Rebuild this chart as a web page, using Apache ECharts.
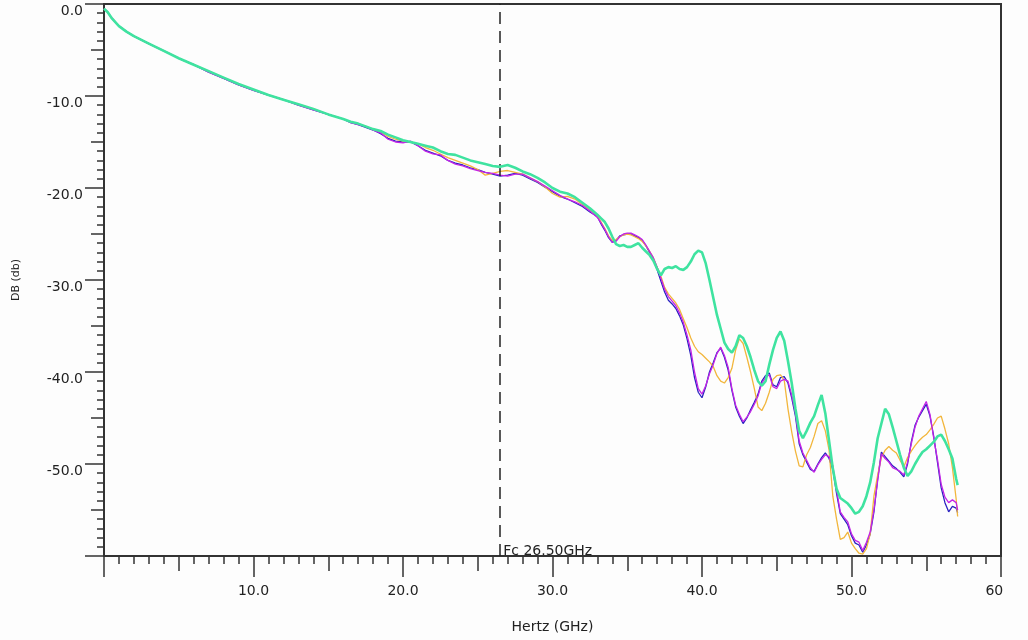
<!DOCTYPE html>
<html><head><meta charset="utf-8">
<script src="https://cdn.jsdelivr.net/npm/echarts@6/dist/echarts.min.js"></script>
<style>html,body{margin:0;padding:0;background:#fdfdfd;overflow:hidden;} #c{width:1003px;height:640px;}</style>
</head><body><div id="c"></div>
<script>
// Frequency grid (GHz)
const freqs = [
  0,0.25,0.5,1,1.5,2,3,4,5,6,7,8,9,10,11,12,13,14,15,
  16,16.5,17,17.5,18,18.5,19,19.5,20,20.5,21,21.5,22,22.5,23,23.5,24,24.5,25,25.5,26,26.5,27,27.5,28,28.5,29,29.5,30,30.5,31,31.5,32,32.5,
  33,33.25,33.5,33.75, 34,34.25,34.5,34.75, 35,35.25,35.5,35.75, 36,36.25,36.5,36.75,
  37,37.25,37.5,37.75, 38,38.25,38.5,38.75, 39,39.25,39.5,39.75, 40,40.25,40.5,40.75,
  41,41.25,41.5,41.75, 42,42.25,42.5,42.75, 43,43.25,43.5,43.75, 44,44.25,44.5,44.75,
  45,45.25,45.5,45.75, 46,46.25,46.5,46.75, 47,47.25,47.5,47.75, 48,48.25,48.5,48.75,
  49,49.25,49.5,49.75, 50,50.25,50.5,50.75, 51,51.25,51.5,51.75, 52,52.25,52.5,52.75,
  53,53.25,53.5,53.75, 54,54.25,54.5,54.75, 55,55.25,55.5,55.75, 56,56.25,56.5,56.75,
  57,57.1
];

const greenDb = [
  -0.5,-0.9,-1.5,-2.4,-3.0,-3.5,-4.3,-5.1,-5.9,-6.6,-7.3,-8.0,-8.7,-9.3,-9.9,-10.4,-10.9,-11.4,-12.0,
  -12.5,-12.8,-13.0,-13.3,-13.6,-13.8,-14.2,-14.5,-14.8,-15.0,-15.2,-15.4,-15.6,-16.0,-16.3,-16.4,-16.7,-17.0,-17.2,-17.4,-17.6,-17.7,-17.5,-17.8,-18.2,-18.5,-18.9,-19.4,-20.0,-20.4,-20.6,-21.0,-21.6,-22.2,
  -22.9,-23.3,-23.7,-24.4, -25.3,-26.1,-26.3,-26.2, -26.4,-26.4,-26.2,-26.0, -26.5,-26.9,-27.3,-27.9,
  -28.8,-29.5,-28.8,-28.6, -28.7,-28.5,-28.8,-28.9, -28.6,-28.0,-27.2,-26.8, -27.0,-28.2,-30.0,-31.9,
  -33.8,-35.3,-36.8,-37.5, -37.9,-37.2,-36.0,-36.3, -37.2,-38.4,-39.8,-41.0, -41.5,-41.0,-39.2,-37.6,
  -36.3,-35.6,-36.6,-38.8, -41.2,-44.0,-46.4,-47.2, -46.4,-45.5,-44.8,-43.6, -42.5,-44.5,-47.5,-50.5,
  -52.7,-53.7,-54.0,-54.3, -54.8,-55.4,-55.2,-54.6, -53.5,-52.0,-49.8,-47.2, -45.6,-44.0,-44.6,-46.0,
  -47.5,-49.0,-50.4,-51.3, -50.8,-50.0,-49.3,-48.7, -48.4,-48.0,-47.6,-47.0, -46.8,-47.5,-48.4,-49.4,
  -51.6,-52.3
];

const magentaDb = [
  -0.5,-0.9,-1.5,-2.4,-3.0,-3.5,-4.3,-5.1,-5.9,-6.6,-7.4,-8.1,-8.8,-9.4,-9.9,-10.4,-11.0,-11.5,-12.0,
  -12.5,-12.9,-13.1,-13.3,-13.7,-14.0,-14.7,-15.0,-15.1,-14.9,-15.4,-16.0,-16.3,-16.4,-17.0,-17.4,-17.6,-17.9,-18.1,-18.3,-18.4,-18.6,-18.7,-18.5,-18.5,-18.9,-19.3,-19.8,-20.3,-20.8,-21.2,-21.5,-21.9,-22.5,
  -23.2,-23.8,-24.5,-25.3, -25.9,-25.8,-25.3,-25.0, -24.9,-24.9,-25.1,-25.3, -25.6,-26.2,-26.9,-27.6,
  -28.6,-29.8,-31.0,-31.8, -32.3,-32.8,-33.6,-34.6, -36.0,-37.6,-40.0,-41.8, -42.4,-41.5,-40.2,-39.2,
  -38.0,-37.3,-38.2,-39.5, -41.8,-43.6,-44.6,-45.4, -44.9,-44.3,-43.5,-42.6, -41.2,-40.6,-40.3,-41.6,
  -41.8,-41.0,-40.8,-41.0, -42.5,-44.5,-47.5,-48.8, -49.6,-50.4,-50.9,-50.1, -49.5,-49.0,-49.2,-50.2,
  -52.8,-55.2,-55.8,-56.3, -57.6,-58.3,-58.5,-59.4, -58.5,-57.4,-55.0,-51.8, -48.9,-49.4,-49.8,-50.4,
  -50.6,-50.8,-51.2,-49.8, -47.8,-46.0,-44.8,-44.0, -43.2,-44.6,-47.2,-49.5, -52.2,-53.6,-54.2,-53.9,
  -54.2,-55.0
];

const blueDb = [
  -0.5,-0.9,-1.5,-2.4,-3.0,-3.5,-4.3,-5.1,-5.9,-6.6,-7.4,-8.1,-8.8,-9.4,-9.9,-10.4,-11.0,-11.5,-12.0,
  -12.5,-12.9,-13.1,-13.4,-13.7,-14.1,-14.6,-14.9,-15.0,-15.0,-15.4,-15.9,-16.2,-16.5,-17.0,-17.3,-17.5,-17.8,-18.0,-18.3,-18.5,-18.7,-18.6,-18.4,-18.6,-19.0,-19.4,-19.9,-20.4,-20.9,-21.2,-21.6,-22.0,-22.6,
  -23.1,-23.9,-24.6,-25.4, -25.9,-25.7,-25.2,-25.1, -25.0,-25.0,-25.2,-25.4, -25.7,-26.3,-27.0,-27.8,
  -28.9,-30.1,-31.3,-32.2, -32.6,-33.1,-33.9,-34.9, -36.4,-38.2,-40.6,-42.2, -42.8,-41.6,-40.0,-39.0,
  -37.9,-37.4,-38.4,-39.8, -42.0,-43.8,-44.8,-45.6, -45.0,-44.1,-43.3,-42.4, -41.0,-40.4,-40.1,-41.4,
  -41.6,-40.6,-40.5,-41.2, -42.8,-44.8,-47.8,-49.0, -49.8,-50.6,-50.8,-50.0, -49.3,-48.8,-49.4,-50.6,
  -53.2,-55.4,-56.0,-56.6, -57.8,-58.6,-58.8,-59.6, -58.8,-57.6,-55.2,-51.6, -48.7,-49.2,-49.7,-50.2,
  -50.5,-50.9,-51.4,-50.0, -47.6,-45.8,-44.9,-44.2, -43.5,-44.8,-47.0,-49.8, -52.6,-54.2,-55.2,-54.6,
  -54.8,-55.3
];

const orangeDb = [
  -0.5,-0.9,-1.5,-2.4,-3.0,-3.5,-4.3,-5.1,-5.9,-6.6,-7.3,-8.0,-8.7,-9.3,-9.9,-10.4,-10.9,-11.4,-12.0,
  -12.5,-12.8,-13.0,-13.3,-13.6,-13.9,-14.4,-14.7,-14.9,-15.0,-15.2,-15.6,-15.9,-16.3,-16.7,-17.0,-17.3,-17.6,-18.0,-18.6,-18.4,-18.2,-18.1,-18.3,-18.5,-18.9,-19.3,-19.9,-20.6,-21.0,-20.9,-21.2,-21.8,-22.4,
  -23.0,-23.7,-24.4,-25.2, -25.7,-25.6,-25.3,-25.1, -25.0,-25.1,-25.3,-25.5, -25.8,-26.3,-26.9,-27.6,
  -28.6,-29.6,-30.8,-31.5, -32.0,-32.5,-33.2,-34.2, -35.2,-36.3,-37.2,-37.8, -38.1,-38.5,-38.9,-39.4,
  -40.4,-41.0,-41.2,-40.6, -39.6,-37.6,-36.4,-36.9, -38.4,-40.0,-41.8,-43.8, -44.2,-43.4,-42.2,-40.8,
  -40.4,-40.3,-40.9,-44.0, -46.5,-48.6,-50.2,-50.3, -49.0,-48.2,-47.0,-45.6, -45.3,-46.4,-48.5,-53.5,
  -56.0,-58.2,-58.0,-57.4, -58.6,-59.2,-59.7,-59.8, -59.2,-57.6,-53.5,-51.2, -49.3,-48.5,-48.1,-48.5,
  -48.8,-49.6,-50.3,-49.3, -48.6,-48.0,-47.5,-47.1, -46.8,-46.3,-45.7,-45.0, -44.8,-46.2,-47.8,-50.4,
  -53.8,-55.7
];

const yTickValues = [0, -10, -20, -30, -40, -50];
const xTickValues = [10, 20, 30, 40, 50, 60];
const cutoffGHz = 26.5;
const cutoffLabel = 'Fc 26.50GHz';

const FONT = 'DejaVu Sans';
const AX = '#333';
const pairs = arr => freqs.map((f, i) => [f, arr[i]]);

const chart = echarts.init(document.getElementById('c'), null, {renderer: 'canvas'});
const lineSeries = (name, arr, color, width, z) => ({
  name, type: 'line', data: pairs(arr), xAxisIndex: 0, yAxisIndex: 0,
  showSymbol: false, symbol: 'none', z,
  lineStyle: {color, width}, clip: true
});

chart.setOption({
  animation: false,
  backgroundColor: '#fdfdfd',
  grid: {left: 104, top: 4, right: 2, bottom: 84, containLabel: false, outerBoundsMode: 'none',
    show: true, borderColor: AX, borderWidth: 2, backgroundColor: 'transparent'},
  xAxis: [{
    type: 'value', min: 0, max: 60, interval: 10, position: 'bottom',
    name: 'Hertz (GHz)', nameLocation: 'middle', nameGap: 64,
    nameTextStyle: {fontFamily: FONT, fontSize: 14, color: '#222'},
    axisLine: {show: true, onZero: false, lineStyle: {color: AX, width: 2}},
    axisTick: {show: true, length: 21, lineStyle: {color: AX, width: 1.5}},
    minorTick: {show: true, splitNumber: 10, length: 8, lineStyle: {color: AX, width: 1.5}},
    splitLine: {show: false}, minorSplitLine: {show: false},
    axisLabel: {margin: 28, fontFamily: FONT, fontSize: 14, color: '#222',
      formatter: v => xTickValues.includes(v) ? v.toFixed(1) : ''}
  }, {
    type: 'value', min: 0, max: 60, interval: 5, position: 'bottom',
    axisLine: {show: false, onZero: false}, axisLabel: {show: false}, splitLine: {show: false},
    axisTick: {show: true, length: 15, lineStyle: {color: AX, width: 1.5}}
  }],
  yAxis: [{
    type: 'value', min: -60, max: 0, interval: 10, position: 'left',
    name: 'DB (db)', nameLocation: 'middle', nameGap: 82, nameRotate: 90,
    nameTextStyle: {fontFamily: FONT, fontSize: 11, color: '#222'},
    axisLine: {show: true, onZero: false, lineStyle: {color: AX, width: 2}},
    axisTick: {show: true, length: 19, lineStyle: {color: AX, width: 1.5}},
    minorTick: {show: true, splitNumber: 10, length: 7, lineStyle: {color: AX, width: 1.5}},
    splitLine: {show: false}, minorSplitLine: {show: false},
    axisLabel: {margin: 21, fontFamily: FONT, fontSize: 14, color: '#222', verticalAlign: 'top',
      formatter: v => yTickValues.includes(v) ? v.toFixed(1) : ''}
  }, {
    type: 'value', min: -60, max: 0, interval: 5, position: 'left',
    axisLine: {show: false, onZero: false}, axisLabel: {show: false}, splitLine: {show: false},
    axisTick: {show: true, length: 13, lineStyle: {color: AX, width: 1.5}}
  }],
  series: [
    lineSeries('Trace 1', blueDb, '#2a22c0', 1.3, 2),
    lineSeries('Trace 2', orangeDb, '#f2b63c', 1.3, 3),
    lineSeries('Trace 3', magentaDb, '#c424e6', 1.3, 4),
    Object.assign(lineSeries('Trace 4', greenDb, '#3fe3a0', 2.6, 5), {
      markLine: {
        silent: true, symbol: 'none', animation: false,
        lineStyle: {color: '#222', width: 1.5, type: [12, 7]},
        label: {show: false},
        data: [[{coord: [cutoffGHz, -60]}, {coord: [cutoffGHz, 0]}]]
      }
    })
  ]
});

const p = chart.convertToPixel({xAxisIndex: 0, yAxisIndex: 0}, [cutoffGHz, -60]);
chart.setOption({
  graphic: [{
    type: 'text', x: p[0] + 3, y: p[1] + 2, z: 100,
    style: {text: cutoffLabel, fontFamily: FONT, fontSize: 14, fill: '#222', verticalAlign: 'bottom', align: 'left'}
  }]
});
</script>
</body></html>
